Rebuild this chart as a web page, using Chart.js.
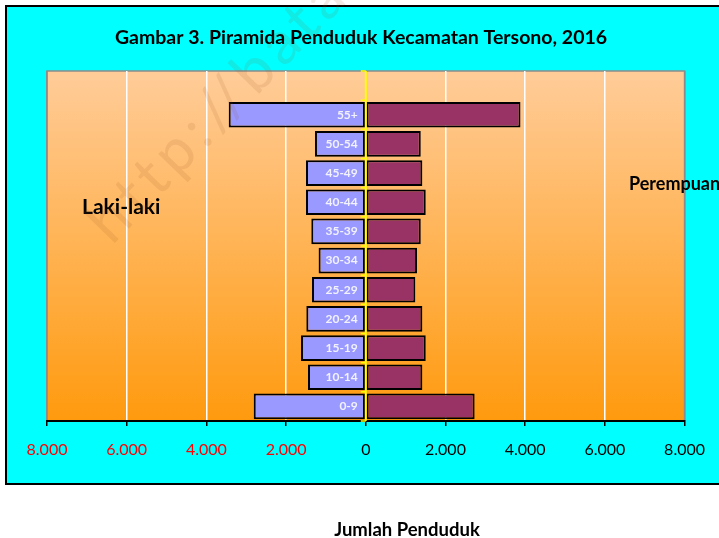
<!DOCTYPE html>
<html>
<head>
<meta charset="utf-8">
<script src="https://cdn.jsdelivr.net/npm/chart.js@4.4.1/dist/chart.umd.min.js"></script>
<style>
  html, body { margin: 0; padding: 0; background: #ffffff; }
  #wrap { width: 719px; height: 538px; }
</style>
</head>
<body>
<div id="wrap"><canvas id="c" width="719" height="538"></canvas></div>
<script>
// ---- data (top row is an empty category, as in the original) ----
const ageGroups = ['', '55+', '50-54', '45-49', '40-44', '35-39', '30-34', '25-29', '20-24', '15-19', '10-14', '0-9'];
const lakiLaki  = [null, 3440, 1275, 1500, 1500, 1367, 1184, 1350, 1492, 1625, 1450, 2812];
const perempuan = [null, 3883, 1380, 1420, 1505, 1380, 1287, 1244, 1420, 1505, 1420, 2732];
const xTicks = [-8000, -6000, -4000, -2000, 0, 2000, 4000, 6000, 8000];

const titleText = 'Gambar 3. Piramida Penduduk Kecamatan Tersono, 2016';
const leftLabel = 'Laki-laki';
const rightLabel = 'Perempuan';
const xTitle = 'Jumlah Penduduk';
const watermark = 'http://bata';

const FONT = 'Lato, "Liberation Sans", sans-serif';

function fmt(v) {
  const a = Math.abs(v);
  return a.toString().replace(/\B(?=(\d{3})+(?!\d))/g, '.');
}

const decor = {
  id: 'decor',
  beforeDraw(chart) {
    const { ctx, chartArea: a } = chart;
    ctx.save();
    // cyan frame
    ctx.fillStyle = '#00FFFF';
    ctx.fillRect(6, 6, 760, 478);
    ctx.strokeStyle = '#000000';
    ctx.lineWidth = 2;
    ctx.strokeRect(6, 6, 760, 478);
    // plot background gradient
    const g = ctx.createLinearGradient(0, a.top, 0, a.bottom);
    g.addColorStop(0, '#FFCC99');
    g.addColorStop(1, '#FF9A0E');
    ctx.fillStyle = g;
    ctx.fillRect(a.left, a.top, a.right - a.left, a.bottom - a.top);
    ctx.strokeStyle = '#8c8c8c';
    ctx.lineWidth = 1.5;
    ctx.beginPath();
    ctx.moveTo(a.left, a.bottom);
    ctx.lineTo(a.left, a.top);
    ctx.lineTo(a.right, a.top);
    ctx.lineTo(a.right, a.bottom);
    ctx.stroke();
    // title
    ctx.fillStyle = '#000';
    ctx.font = 'bold 19.5px ' + FONT;
    ctx.textAlign = 'center';
    ctx.textBaseline = 'middle';
    ctx.fillText(titleText, 361, 38);
    // x title
    ctx.font = 'bold 18.5px ' + FONT;
    ctx.fillText(xTitle, 407, 530);
    ctx.restore();
  },
  afterDatasetsDraw(chart) {
    const { ctx, chartArea: a, scales } = chart;
    const x0 = scales.x.getPixelForValue(0);
    const ys = scales.y;
    const band = (a.bottom - a.top) / ageGroups.length;
    ctx.save();
    // yellow zero axis + tick marks
    ctx.strokeStyle = '#FFFF00';
    ctx.lineWidth = 2;
    ctx.beginPath();
    ctx.moveTo(x0, a.top);
    ctx.lineTo(x0, a.bottom);
    ctx.stroke();
    ctx.lineWidth = 1.5;
    for (let i = 0; i <= ageGroups.length; i++) {
      const y = a.top + i * band;
      ctx.beginPath();
      ctx.moveTo(x0 - 5, y);
      ctx.lineTo(x0, y);
      ctx.stroke();
    }
    // age labels inside male bars
    ctx.fillStyle = '#F2F2FF';
    ctx.font = 'bold 12px ' + FONT;
    ctx.textAlign = 'right';
    ctx.textBaseline = 'middle';
    ageGroups.forEach((lab, i) => {
      if (!lab) return;
      ctx.fillText(lab, x0 - 8, ys.getPixelForValue(i));
    });
    // side labels
    ctx.fillStyle = '#000';
    ctx.font = 'bold 21px ' + FONT;
    ctx.textAlign = 'left';
    ctx.fillText(leftLabel, 82, 207);
    ctx.font = 'bold 18px ' + FONT;
    ctx.fillText(rightLabel, 629, 184);
    // watermark
    ctx.translate(112, 246);
    ctx.rotate(-46 * Math.PI / 180);
    ctx.fillStyle = 'rgba(150, 80, 30, 0.12)';
    ctx.font = '60px ' + FONT;
    if ('letterSpacing' in ctx) ctx.letterSpacing = '6px';
    ctx.textAlign = 'left';
    ctx.textBaseline = 'alphabetic';
    ctx.fillText(watermark, 0, 0);
    ctx.restore();
  }
};

new Chart(document.getElementById('c'), {
  type: 'bar',
  data: {
    labels: ageGroups,
    datasets: [
      {
        label: leftLabel,
        data: lakiLaki.map(v => v === null ? null : -v),
        backgroundColor: '#9999FF',
        borderColor: '#000000',
        borderWidth: 2,
        borderSkipped: false,
        barPercentage: 0.88,
        categoryPercentage: 1.0
      },
      {
        label: rightLabel,
        data: perempuan,
        backgroundColor: '#993366',
        borderColor: '#000000',
        borderWidth: 2,
        borderSkipped: false,
        barPercentage: 0.88,
        categoryPercentage: 1.0
      }
    ]
  },
  options: {
    indexAxis: 'y',
    responsive: false,
    animation: false,
    devicePixelRatio: 1,
    layout: { padding: { left: 47, right: 33, top: 71, bottom: 67 } },
    plugins: { legend: { display: false }, tooltip: { enabled: false }, title: { display: false } },
    scales: {
      x: {
        type: 'linear',
        stacked: true,
        min: -8000,
        max: 8000,
        afterBuildTicks: (s) => { s.ticks = xTicks.map(v => ({ value: v })); },
        afterFit: (s) => { s.height = 50; },
        ticks: {
          autoSkip: false,
          maxRotation: 0,
          padding: 14,
          font: { family: FONT, size: 16 },
          color: (c) => (c.tick && c.tick.value < 0) ? '#FF0000' : '#000000',
          callback: (v) => fmt(v)
        },
        grid: {
          drawTicks: true,
          tickLength: 5,
          tickColor: '#000000',
          tickWidth: 1.5,
          lineWidth: 1.5,
          color: (c) => {
            const v = c.tick ? c.tick.value : 0;
            if (v === 0) return 'rgba(0,0,0,0)';
            if (Math.abs(v) === 8000) return '#8c8c8c';
            return '#ffffff';
          }
        },
        border: { color: '#000000', width: 2 }
      },
      y: {
        stacked: true,
        display: false,
        offset: true
      }
    }
  },
  plugins: [decor]
});
</script>
</body>
</html>
